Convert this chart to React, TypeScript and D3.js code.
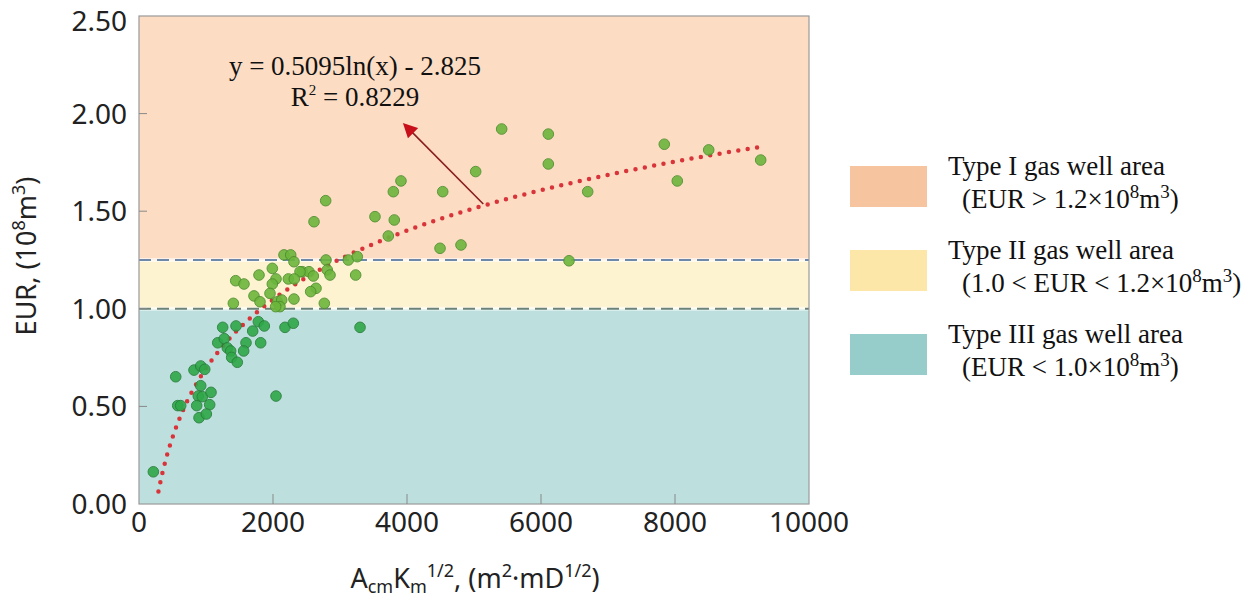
import React from "react";
import * as d3 from "d3";

// well data: A_cm*K_m^(1/2) vs EUR (10^8 m3)
const wellX = [
  214, 548, 578, 622, 821, 921, 981, 921, 885, 945, 1075, 861, 1055, 896, 1005,
  1249, 1448, 1175, 1273, 1318, 1368, 1383, 1467, 1597, 1562, 1697, 1781, 1870,
  1816, 2179, 2303, 2045, 3299,
  1443, 1567, 1408, 1716, 1806, 1791, 1990, 2045, 1990, 1955, 2064, 2130, 2104,
  2040, 2164, 2264, 2313, 2437, 2537, 2403, 2229, 2318, 2602, 2642, 2562, 2313,
  2766, 2791, 2810, 2851, 3124, 3234, 3258,
  2786, 2612, 3522, 3810, 3796, 3910, 3721, 4493, 4533, 5413, 6109, 6109, 5025,
  6697, 7840, 8034, 8503, 9279, 4806, 6418,
];
const wellEUR = [
  0.165, 0.652, 0.504, 0.504, 0.686, 0.707, 0.69, 0.606, 0.553, 0.55, 0.572,
  0.504, 0.509, 0.442, 0.461, 0.905, 0.912, 0.826, 0.847, 0.8, 0.784, 0.751,
  0.726, 0.826, 0.784, 0.886, 0.934, 0.912, 0.826, 0.905, 0.926, 0.553, 0.905,
  1.144, 1.127, 1.028, 1.066, 1.036, 1.173, 1.207, 1.153, 1.127, 1.079, 1.036,
  1.045, 1.011, 1.011, 1.276, 1.276, 1.241, 1.19, 1.19, 1.19, 1.153, 1.153,
  1.168, 1.105, 1.088, 1.05, 1.028, 1.25, 1.199, 1.173, 1.25, 1.173, 1.267,
  1.554, 1.446, 1.472, 1.455, 1.6, 1.655, 1.373, 1.31, 1.6, 1.921, 1.895, 1.742,
  1.703, 1.6, 1.843, 1.655, 1.814, 1.762, 1.327, 1.246,
];

const xTicks = [0, 2000, 4000, 6000, 8000, 10000];
const yTicks = [0, 0.5, 1.0, 1.5, 2.0, 2.5];

// fitted curve y = a ln(x) + b
const fitA = 0.5095;
const fitB = -2.825;
const fitRange = [290, 9250];

const bandLimits = [0, 1.0, 1.25, 2.5];
const bandFill = ["#bde0de", "#fdf3d0", "#fcddc4"];
const swatchFill = ["#f7c4a0", "#fce6a8", "#96cdcb"];

const W = 1250;
const H = 608;
const m = { left: 139, top: 16, right: 809, bottom: 504 };

const sans = "'Noto Sans', sans-serif";
const serif = "'Liberation Serif', 'Times New Roman', serif";

export default function App() {
  const x = d3.scaleLinear().domain([0, 10000]).range([m.left, m.right]);
  const y = d3.scaleLinear().domain([0, 2.5]).range([m.bottom, m.top]);

  const fitPts = d3
    .range(fitRange[0], fitRange[1] + 1, 20)
    .map((v) => [v, fitA * Math.log(v) + fitB] as [number, number]);
  const fitPath = d3
    .line<[number, number]>()
    .x((d) => x(d[0]))
    .y((d) => y(d[1]))(fitPts);

  const arrowFrom = [5139, 1.537];
  const arrowTo = [4060, 1.91];

  return (
    <svg
      width={W}
      height={H}
      style={{ position: "absolute", left: 0, top: 0, background: "#fff" }}
    >
      <defs>
        <marker
          id="head"
          viewBox="0 0 10 10"
          refX="2"
          refY="5"
          markerWidth="9"
          markerHeight="9"
          orient="auto"
        >
          <path d="M0,0 L10,5 L0,10 z" fill="#c8101a" />
        </marker>
      </defs>

      {/* bands */}
      {bandFill.map((c, i) => (
        <rect
          key={i}
          x={m.left}
          y={y(bandLimits[i + 1])}
          width={m.right - m.left}
          height={y(bandLimits[i]) - y(bandLimits[i + 1])}
          fill={c}
        />
      ))}

      {/* boundaries */}
      {[1.25, 1.0].map((v, i) => (
        <g key={v}>
          <line x1={m.left} x2={m.right} y1={y(v)} y2={y(v)} stroke="#fff" strokeWidth={4} opacity={0.6} />
          <line
            x1={m.left}
            x2={m.right}
            y1={y(v)}
            y2={y(v)}
            stroke={i === 0 ? "#6e88aa" : "#6b8278"}
            strokeWidth={2}
            strokeDasharray="12 6"
          />
        </g>
      ))}

      {/* trend */}
      <path
        d={fitPath || ""}
        fill="none"
        stroke="#d8343a"
        strokeWidth={4.5}
        strokeLinecap="round"
        strokeDasharray="0 9.5"
      />

      {/* points */}
      {wellX.map((v, i) => (
        <circle
          key={i}
          cx={x(v)}
          cy={y(wellEUR[i])}
          r={5.3}
          fill={wellEUR[i] < 1 ? "#2fa748" : "#6cb63c"}
          stroke={wellEUR[i] < 1 ? "#2a7e3c" : "#4f8e2e"}
          strokeWidth={1}
          opacity={0.9}
        />
      ))}

      {/* arrow */}
      <line
        x1={x(arrowFrom[0])}
        y1={y(arrowFrom[1])}
        x2={x(arrowTo[0])}
        y2={y(arrowTo[1])}
        stroke="#8a1f1f"
        strokeWidth={1.6}
        markerEnd="url(#head)"
      />

      {/* frame */}
      <rect
        x={m.left}
        y={m.top}
        width={m.right - m.left}
        height={m.bottom - m.top}
        fill="none"
        stroke="#999"
        strokeWidth={1.2}
      />

      {/* ticks */}
      {yTicks.slice(1, -1).map((t) => (
        <line key={t} x1={m.left} x2={m.left + 8} y1={y(t)} y2={y(t)} stroke="#888" />
      ))}
      {xTicks.slice(1, -1).map((t) => (
        <line key={t} x1={x(t)} x2={x(t)} y1={m.bottom} y2={m.bottom - 10} stroke="#888" />
      ))}

      {yTicks.map((t) => (
        <text
          key={t}
          x={m.left - 12}
          y={Math.max(y(t), 21)}
          dy="0.36em"
          textAnchor="end"
          fontFamily={sans}
          fontSize={28}
          fill="#222"
        >
          {d3.format(".2f")(t)}
        </text>
      ))}
      {xTicks.map((t) => (
        <text
          key={t}
          x={x(t)}
          y={m.bottom + 28}
          textAnchor="middle"
          fontFamily={sans}
          fontSize={28}
          fill="#222"
        >
          {t}
        </text>
      ))}

      {/* axis titles */}
      <text x={475} y={588} textAnchor="middle" fontFamily={sans} fontSize={27} fill="#222">
        A<tspan fontSize={18} dy={5}>cm</tspan>
        <tspan dy={-5}>K</tspan>
        <tspan fontSize={18} dy={5}>m</tspan>
        <tspan fontSize={18} dy={-16}>1/2</tspan>
        <tspan dy={11}>, (m</tspan>
        <tspan fontSize={18} dy={-11}>2</tspan>
        <tspan dy={11}>·mD</tspan>
        <tspan fontSize={18} dy={-11}>1/2</tspan>
        <tspan dy={11}>)</tspan>
      </text>
      <text
        transform="translate(36,256) rotate(-90)"
        textAnchor="middle"
        fontFamily={sans}
        fontSize={27}
        fill="#222"
      >
        EUR, (10<tspan fontSize={18} dy={-11}>8</tspan>
        <tspan dy={11}>m</tspan>
        <tspan fontSize={18} dy={-11}>3</tspan>
        <tspan dy={11}>)</tspan>
      </text>

      {/* annotation */}
      <text x={355} y={75} textAnchor="middle" fontFamily={serif} fontSize={27} fill="#111">
        y = 0.5095ln(x) - 2.825
      </text>
      <text x={355} y={106} textAnchor="middle" fontFamily={serif} fontSize={27} fill="#111">
        R<tspan fontSize={15} dy={-11}>2</tspan>
        <tspan dy={11}> = 0.8229</tspan>
      </text>

      {/* legend */}
      {[
        ["Type I gas well area", "(EUR > 1.2×10", 166],
        ["Type II gas well area", "(1.0 < EUR < 1.2×10", 250],
        ["Type III gas well area", "(EUR < 1.0×10", 334],
      ].map(([t1, t2, top], i) => (
        <g key={i}>
          <rect x={850} y={top as number} width={77} height={41} fill={swatchFill[i]} />
          <text x={948} y={(top as number) + 9} fontFamily={serif} fontSize={27} fill="#111">
            {t1}
          </text>
          <text x={962} y={(top as number) + 42} fontFamily={serif} fontSize={27} fill="#111">
            {t2}
            <tspan fontSize={19} dy={-10}>8</tspan>
            <tspan dy={10}>m</tspan>
            <tspan fontSize={19} dy={-10}>3</tspan>
            <tspan dy={10}>)</tspan>
          </text>
        </g>
      ))}
    </svg>
  );
}
